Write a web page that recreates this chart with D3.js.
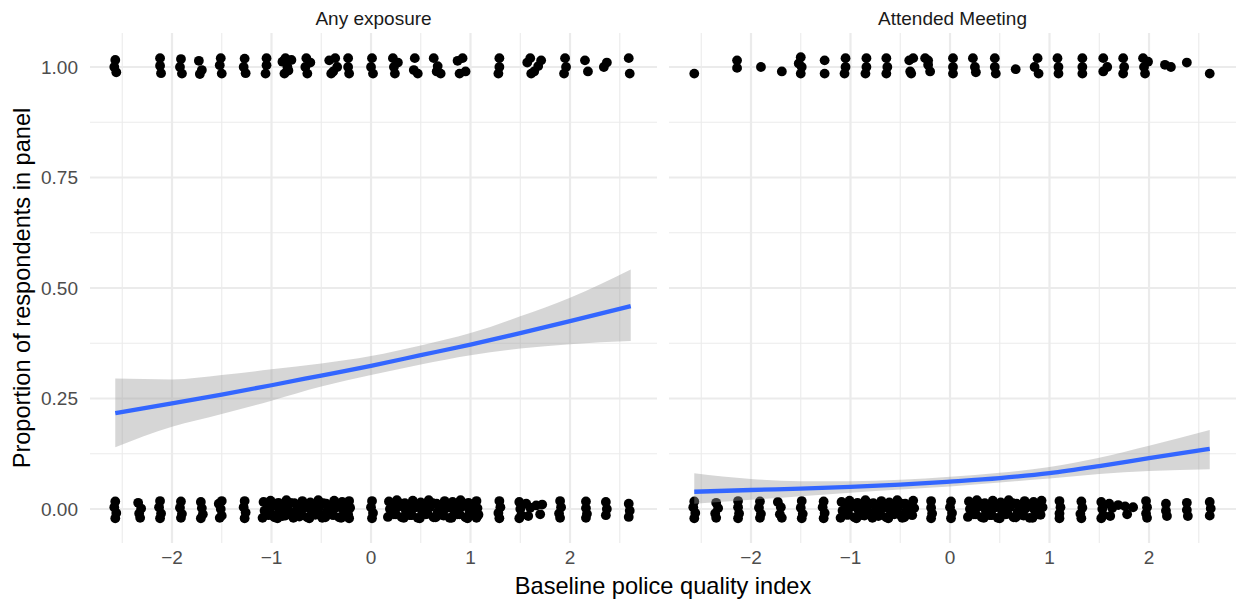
<!DOCTYPE html>
<html>
<head>
<meta charset="utf-8">
<script src="https://cdn.jsdelivr.net/npm/d3@7"></script>
<style>
    body { margin: 0; background: #fff; }
    text { font-family: "Liberation Sans", Arial, sans-serif; }
</style>
</head>
<body>
<svg id="chart" width="1238" height="599"></svg>
<script>
// facet titles
var facetNames = ["Any exposure", "Attended Meeting"];

// tick labels
var xTicks = [-2, -1, 0, 1, 2];
var xMinor = [-2.5, -1.5, -0.5, 0.5, 1.5, 2.5];
var yTicks = [0, 0.25, 0.5, 0.75, 1];
var yMinor = [0.125, 0.375, 0.625, 0.875];

// jittered respondents, [index, outcome]
var anyYes = [
    [-2.57, 1.016], [-2.56, 0.988], [-2.58, 1.0],
    [-2.12, 1.02], [-2.12, 1.003], [-2.11, 0.986],
    [-1.91, 1.018], [-1.92, 1.0], [-1.9, 0.985],
    [-1.73, 1.014], [-1.7, 0.993], [-1.72, 0.984],
    [-1.51, 1.02], [-1.52, 1.004], [-1.5, 0.985],
    [-1.27, 1.019], [-1.28, 1.0], [-1.26, 0.986],
    [-1.05, 1.02], [-1.05, 1.004], [-1.06, 0.985],
    [-0.89, 1.012], [-0.86, 1.02], [-0.83, 0.992], [-0.8, 1.016],
    [-0.87, 0.985], [-0.84, 1.0],
    [-0.65, 1.02], [-0.66, 1.0], [-0.64, 0.985], [-0.61, 1.01],
    [-0.42, 1.015], [-0.38, 0.99], [-0.36, 1.02], [-0.4, 0.985],
    [-0.34, 1.0],
    [-0.23, 1.02], [-0.23, 1.0], [-0.22, 0.985],
    [0.01, 1.02], [0.0, 1.0], [0.02, 0.985],
    [0.22, 1.02], [0.23, 1.0], [0.24, 0.985], [0.27, 1.01],
    [0.44, 1.02], [0.43, 0.993], [0.47, 0.985],
    [0.63, 1.02], [0.67, 1.002], [0.7, 0.985], [0.66, 0.99],
    [0.87, 1.014], [0.92, 1.02], [0.95, 0.99], [0.89, 0.985],
    [1.29, 1.02], [1.29, 1.0], [1.28, 0.985],
    [1.57, 1.01], [1.6, 1.02], [1.64, 0.99], [1.68, 1.002],
    [1.61, 0.985], [1.71, 1.015],
    [1.95, 1.02], [1.96, 1.0], [1.94, 0.985],
    [2.15, 1.015], [2.18, 0.99],
    [2.34, 1.0], [2.37, 1.01],
    [2.59, 1.02], [2.6, 0.985]
];

var anyNo = [
    [-2.57, 0.017], [-2.58, 0.004], [-2.56, -0.009], [-2.57, -0.021],
    [-2.34, 0.014], [-2.31, 0.001], [-2.33, -0.01], [-2.32, -0.02],
    [-2.12, 0.018], [-2.13, 0.004], [-2.11, -0.01], [-2.12, -0.021],
    [-1.91, 0.017], [-1.92, 0.003], [-1.9, -0.011], [-1.91, -0.02],
    [-1.71, 0.016], [-1.7, 0.002], [-1.69, -0.012], [-1.71, -0.021],
    [-1.53, 0.012], [-1.5, 0.018], [-1.51, 0.0], [-1.5, -0.015],
    [-1.52, -0.02],
    [-1.27, 0.018], [-1.28, 0.004], [-1.26, -0.008], [-1.27, -0.021],
    [-1.08, 0.016], [-1.07, -0.004], [-1.09, -0.02],
    [-1.04, 0.008], [-1.03, -0.014],
    [-1.01, 0.019], [-0.99, 0.006], [-1.0, -0.012],
    [-0.96, 0.012], [-0.97, -0.019],
    [-0.93, 0.014], [-0.92, -0.002], [-0.94, -0.021],
    [-0.88, 0.006], [-0.89, -0.016],
    [-0.85, 0.02], [-0.84, 0.004], [-0.86, -0.015],
    [-0.81, 0.014], [-0.8, -0.01],
    [-0.77, 0.013], [-0.76, -0.006], [-0.78, -0.02],
    [-0.73, 0.007], [-0.72, -0.017],
    [-0.69, 0.018], [-0.68, 0.001], [-0.7, -0.013],
    [-0.65, 0.011], [-0.64, -0.019],
    [-0.61, 0.015], [-0.6, -0.003], [-0.62, -0.021],
    [-0.57, 0.008], [-0.56, -0.013],
    [-0.53, 0.02], [-0.52, 0.005], [-0.51, -0.012],
    [-0.48, 0.013], [-0.49, -0.02],
    [-0.45, 0.012], [-0.44, -0.005], [-0.46, -0.019],
    [-0.41, 0.006], [-0.4, -0.012],
    [-0.37, 0.019], [-0.36, 0.002], [-0.38, -0.014],
    [-0.33, 0.012], [-0.32, -0.019],
    [-0.29, 0.016], [-0.28, -0.002], [-0.3, -0.02],
    [-0.25, 0.008], [-0.25, -0.011],
    [-0.22, 0.018], [-0.21, 0.003], [-0.23, -0.012], [-0.22, -0.021],
    [0.01, 0.018], [0.0, 0.004], [0.02, -0.009], [0.01, -0.021],
    [0.18, 0.017], [0.19, 0.0], [0.17, -0.018],
    [0.22, 0.009], [0.23, -0.012],
    [0.26, 0.02], [0.27, 0.005], [0.25, -0.012],
    [0.3, 0.012], [0.31, -0.019],
    [0.34, 0.013], [0.35, -0.004], [0.33, -0.02],
    [0.38, 0.006], [0.39, -0.014],
    [0.42, 0.019], [0.43, 0.002], [0.41, -0.014],
    [0.46, 0.01], [0.47, -0.02],
    [0.5, 0.015], [0.51, -0.003], [0.49, -0.021],
    [0.54, 0.008], [0.55, -0.012],
    [0.58, 0.02], [0.59, 0.004], [0.57, -0.011],
    [0.62, 0.013], [0.63, -0.019],
    [0.66, 0.012], [0.67, -0.006], [0.65, -0.019],
    [0.7, 0.006], [0.71, -0.013],
    [0.74, 0.018], [0.75, 0.001], [0.73, -0.015],
    [0.78, 0.011], [0.79, -0.02],
    [0.82, 0.016], [0.83, -0.002], [0.81, -0.02],
    [0.86, 0.008], [0.87, -0.012],
    [0.9, 0.02], [0.91, 0.005], [0.89, -0.012],
    [0.94, 0.012], [0.95, -0.019],
    [0.98, 0.014], [0.99, -0.004], [0.97, -0.021],
    [1.02, 0.007], [1.03, -0.013],
    [1.06, 0.018], [1.07, 0.002], [1.08, -0.013], [1.06, -0.02],
    [1.29, 0.018], [1.3, 0.004], [1.28, -0.009], [1.29, -0.021],
    [1.49, 0.016], [1.5, 0.0], [1.51, -0.014], [1.49, -0.021],
    [1.56, 0.012], [1.6, 0.003], [1.58, -0.016], [1.66, 0.008],
    [1.72, 0.01], [1.7, -0.012],
    [1.9, 0.018], [1.91, 0.004], [1.89, -0.01], [1.9, -0.02],
    [2.16, 0.017], [2.16, 0.002], [2.17, -0.011], [2.16, -0.02],
    [2.36, 0.016], [2.37, 0.0], [2.36, -0.014],
    [2.59, 0.012], [2.6, -0.004], [2.59, -0.018]
];

var meetYes = [
    [-2.57, 0.985],
    [-2.14, 1.015], [-2.14, 0.998],
    [-1.9, 1.0],
    [-1.69, 0.99],
    [-1.5, 1.022], [-1.49, 1.0], [-1.5, 0.985], [-1.52, 1.008],
    [-1.26, 1.015], [-1.26, 0.985],
    [-1.05, 1.02], [-1.05, 1.0], [-1.06, 0.985],
    [-0.84, 1.02], [-0.84, 1.0], [-0.85, 0.985],
    [-0.64, 1.02], [-0.63, 1.0], [-0.64, 0.985],
    [-0.41, 1.015], [-0.4, 0.99], [-0.37, 1.02], [-0.39, 0.985],
    [-0.25, 1.02], [-0.22, 1.005], [-0.2, 0.99], [-0.22, 1.015],
    [0.03, 1.02], [0.03, 1.0], [0.03, 0.985],
    [0.23, 1.02], [0.25, 1.0], [0.26, 0.988],
    [0.45, 1.02], [0.45, 1.0], [0.46, 0.985],
    [0.66, 0.995],
    [0.85, 1.0], [0.88, 1.02], [0.89, 0.985],
    [1.08, 1.02], [1.09, 1.0], [1.09, 0.985],
    [1.33, 1.02], [1.33, 1.0], [1.33, 0.985],
    [1.54, 1.02], [1.54, 0.99], [1.58, 1.0],
    [1.74, 1.02], [1.75, 1.0], [1.74, 0.985],
    [1.94, 1.02], [1.95, 1.0], [1.96, 0.985], [1.99, 1.012],
    [2.16, 1.005], [2.22, 1.0],
    [2.38, 1.01],
    [2.61, 0.985]
];

var meetNo = [
    [-2.57, 0.017], [-2.58, 0.004], [-2.56, -0.009], [-2.57, -0.021],
    [-2.35, 0.014], [-2.33, 0.002], [-2.36, -0.01], [-2.35, -0.02],
    [-2.13, 0.018], [-2.13, 0.004], [-2.12, -0.01], [-2.13, -0.021],
    [-1.91, 0.017], [-1.92, 0.003], [-1.9, -0.011], [-1.91, -0.02],
    [-1.73, 0.016], [-1.7, 0.004], [-1.71, -0.012], [-1.69, -0.02],
    [-1.49, 0.018], [-1.5, 0.003], [-1.48, -0.011], [-1.49, -0.021],
    [-1.27, 0.017], [-1.28, 0.004], [-1.26, -0.009], [-1.27, -0.021],
    [-1.09, 0.016], [-1.08, -0.004], [-1.1, -0.02],
    [-1.05, 0.008], [-1.04, -0.013],
    [-1.01, 0.019], [-1.0, 0.004], [-1.02, -0.013],
    [-0.97, 0.011], [-0.96, -0.019],
    [-0.93, 0.014], [-0.92, -0.002], [-0.94, -0.021],
    [-0.89, 0.007], [-0.88, -0.014],
    [-0.85, 0.02], [-0.84, 0.004], [-0.86, -0.015],
    [-0.81, 0.012], [-0.8, -0.01],
    [-0.77, 0.013], [-0.76, -0.006], [-0.78, -0.02],
    [-0.73, 0.008], [-0.72, -0.016],
    [-0.69, 0.018], [-0.68, 0.001], [-0.7, -0.013],
    [-0.65, 0.011], [-0.64, -0.019],
    [-0.61, 0.015], [-0.6, -0.003], [-0.62, -0.021],
    [-0.57, 0.007], [-0.56, -0.012],
    [-0.53, 0.02], [-0.52, 0.005], [-0.51, -0.012],
    [-0.49, 0.012], [-0.48, -0.02],
    [-0.45, 0.012], [-0.44, -0.005], [-0.46, -0.019],
    [-0.41, 0.006], [-0.4, -0.012],
    [-0.37, 0.019], [-0.36, 0.002], [-0.38, -0.014],
    [-0.19, 0.018], [-0.19, 0.003], [-0.18, -0.01], [-0.19, -0.021],
    [0.01, 0.017], [0.0, 0.004], [0.02, -0.009], [0.01, -0.021],
    [0.19, 0.017], [0.2, 0.0], [0.18, -0.018],
    [0.23, 0.009], [0.24, -0.012],
    [0.27, 0.02], [0.28, 0.005], [0.26, -0.012],
    [0.31, 0.012], [0.32, -0.019],
    [0.35, 0.013], [0.36, -0.004], [0.34, -0.02],
    [0.39, 0.006], [0.4, -0.014],
    [0.43, 0.019], [0.44, 0.002], [0.42, -0.014],
    [0.47, 0.01], [0.48, -0.02],
    [0.51, 0.015], [0.52, -0.003], [0.5, -0.021],
    [0.55, 0.008], [0.56, -0.012],
    [0.59, 0.02], [0.6, 0.004], [0.58, -0.011],
    [0.63, 0.013], [0.64, -0.019],
    [0.67, 0.012], [0.68, -0.006], [0.66, -0.019],
    [0.71, 0.006], [0.72, -0.013],
    [0.75, 0.018], [0.76, 0.001], [0.74, -0.015],
    [0.79, 0.011], [0.8, -0.02],
    [0.84, 0.016], [0.85, -0.002], [0.83, -0.02],
    [0.88, 0.008], [0.89, -0.012],
    [0.92, 0.019], [0.93, 0.004], [0.91, -0.013],
    [1.1, 0.018], [1.11, 0.004], [1.1, -0.01], [1.1, -0.021],
    [1.32, 0.017], [1.33, 0.003], [1.31, -0.011], [1.32, -0.021],
    [1.52, 0.016], [1.53, 0.0], [1.54, -0.014], [1.52, -0.021],
    [1.6, 0.012], [1.63, 0.002], [1.61, -0.016], [1.69, 0.009],
    [1.76, 0.006], [1.78, -0.012], [1.84, 0.004],
    [1.97, 0.018], [1.98, 0.004], [1.97, -0.01], [1.98, -0.02],
    [2.17, 0.012], [2.17, -0.004], [2.18, -0.016],
    [2.38, 0.014], [2.38, -0.002], [2.39, -0.016],
    [2.61, 0.016], [2.62, 0.001], [2.61, -0.015]
];

// fitted proportion and 95% band
var fitX = [-2.57, -2, -1.5, -1, -0.5, 0, 0.5, 1, 1.5, 2, 2.61];
var anyFit = [0.217, 0.239, 0.259, 0.28, 0.302, 0.324, 0.348, 0.372,
        0.398, 0.425, 0.459];
var anyLow = [0.14, 0.186, 0.215, 0.245, 0.277, 0.303, 0.327, 0.348,
        0.363, 0.373, 0.38];
var anyHigh = [0.295, 0.293, 0.303, 0.316, 0.329, 0.346, 0.37, 0.398,
        0.436, 0.478, 0.542];
var meetFit = [0.039, 0.043, 0.046, 0.05, 0.055, 0.062, 0.07, 0.081,
        0.097, 0.115, 0.136];
var meetLow = [0.012, 0.021, 0.029, 0.037, 0.044, 0.051, 0.06, 0.069,
        0.079, 0.086, 0.09];
var meetHigh = [0.081, 0.068, 0.063, 0.063, 0.066, 0.073, 0.082, 0.095,
        0.116, 0.143, 0.179];

var svg = d3.select("#chart");

var margin = {
    top: 33, // px
    left: 90, // px
    bottom: 56, // px
    right: 2 // px
};
var panelGap = 12; // px
var width = +svg.attr("width");
var height = +svg.attr("height");
var panelWidth = (width - margin.left - margin.right - panelGap) / 2;
var panelHeight = height - margin.top - margin.bottom;

var x = d3.scaleLinear()
    .domain([-2.824, 2.874])
    .range([0, panelWidth]);
var y = d3.scaleLinear()
    .domain([-0.0769, 1.0769])
    .range([panelHeight, 0]);

var toBand = function (xs, fit, low, high) {
    return xs.map(function (v, i) {
        return {x: v, fit: fit[i], low: low[i], high: high[i]};
    });
};

var panels = [
    {
        name: facetNames[0],
        points: anyNo.concat(anyYes),
        band: toBand(fitX, anyFit, anyLow, anyHigh)
    },
    {
        name: facetNames[1],
        points: meetNo.concat(meetYes),
        band: toBand(fitX, meetFit, meetLow, meetHigh)
    }
];

var area = d3.area()
    .curve(d3.curveMonotoneX)
    .x(function (d) {
        return x(d.x);
    })
    .y0(function (d) {
        return y(d.low);
    })
    .y1(function (d) {
        return y(d.high);
    });

var line = d3.line()
    .curve(d3.curveMonotoneX)
    .x(function (d) {
        return x(d.x);
    })
    .y(function (d) {
        return y(d.fit);
    });

panels.forEach(function (panel, i) {
    var left = margin.left + i * (panelWidth + panelGap);
    var g = svg.append("g")
        .attr("transform", "translate(" + left + "," + margin.top + ")");

    // minor grid
    g.append("g").selectAll("line").data(xMinor).join("line")
        .attr("x1", x).attr("x2", x)
        .attr("y1", 0).attr("y2", panelHeight)
        .attr("stroke", "#ebebeb").attr("stroke-width", 1.1);
    g.append("g").selectAll("line").data(yMinor).join("line")
        .attr("x1", 0).attr("x2", panelWidth)
        .attr("y1", y).attr("y2", y)
        .attr("stroke", "#ebebeb").attr("stroke-width", 1.1);

    // major grid
    g.append("g").selectAll("line").data(xTicks).join("line")
        .attr("x1", x).attr("x2", x)
        .attr("y1", 0).attr("y2", panelHeight)
        .attr("stroke", "#ebebeb").attr("stroke-width", 2.2);
    g.append("g").selectAll("line").data(yTicks).join("line")
        .attr("x1", 0).attr("x2", panelWidth)
        .attr("y1", y).attr("y2", y)
        .attr("stroke", "#ebebeb").attr("stroke-width", 2.2);

    // respondents
    g.append("g").selectAll("circle").data(panel.points).join("circle")
        .attr("cx", function (d) {
            return x(d[0]);
        })
        .attr("cy", function (d) {
            return y(d[1]);
        })
        .attr("r", 4.9)
        .attr("fill", "#000");

    // smooth
    g.append("path")
        .datum(panel.band)
        .attr("d", area)
        .attr("fill", "#999999")
        .attr("fill-opacity", 0.4);
    g.append("path")
        .datum(panel.band)
        .attr("d", line)
        .attr("fill", "none")
        .attr("stroke", "#3366ff")
        .attr("stroke-width", 4.3);

    // strip
    g.append("text")
        .attr("x", panelWidth / 2)
        .attr("y", -8)
        .attr("text-anchor", "middle")
        .attr("font-size", 19)
        .attr("fill", "#1a1a1a")
        .text(panel.name);

    // x tick labels
    g.append("g").selectAll("text").data(xTicks).join("text")
        .attr("x", x)
        .attr("y", panelHeight + 21)
        .attr("text-anchor", "middle")
        .attr("font-size", 19)
        .attr("fill", "#4d4d4d")
        .text(function (d) {
            return d < 0 ? "\u2212" + Math.abs(d) : d;
        });

    if (i === 0) {
        g.append("g").selectAll("text").data(yTicks).join("text")
            .attr("x", -12)
            .attr("y", y)
            .attr("dy", "0.35em")
            .attr("text-anchor", "end")
            .attr("font-size", 19)
            .attr("fill", "#4d4d4d")
            .text(d3.format(".2f"));
    }
});

svg.append("text")
    .attr("x", margin.left + panelWidth + panelGap / 2)
    .attr("y", height - 5)
    .attr("text-anchor", "middle")
    .attr("font-size", 23.6)
    .attr("fill", "#000")
    .text("Baseline police quality index");

svg.append("text")
    .attr("transform", "translate(30," + (margin.top + panelHeight / 2) +
            ") rotate(-90)")
    .attr("text-anchor", "middle")
    .attr("font-size", 23.6)
    .attr("fill", "#000")
    .text("Proportion of respondents in panel");
</script>
</body>
</html>
